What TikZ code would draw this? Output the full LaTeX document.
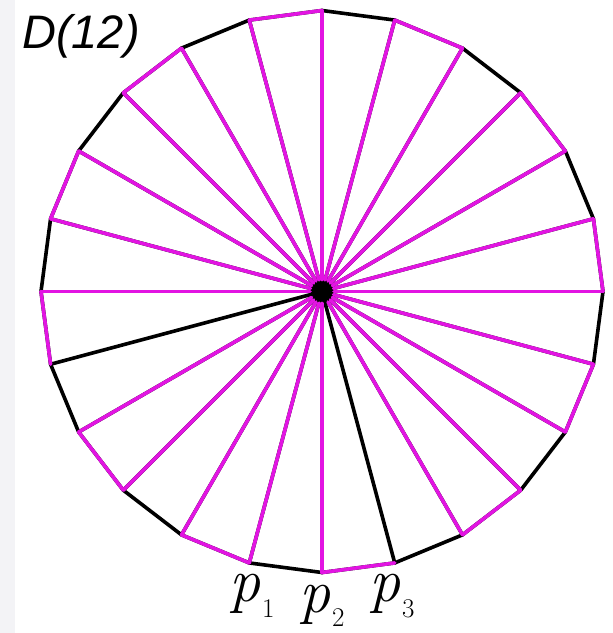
\documentclass[tikz,border=0pt]{standalone}
\usepackage{fontspec}
\newfontfamily\arialfont{Liberation Sans}
\usetikzlibrary{calc}
\definecolor{mag}{RGB}{226,20,226}
\definecolor{stripgray}{RGB}{243,243,246}
\begin{document}
\begin{tikzpicture}[x=1pt,y=-1pt,
  blk/.style={line width=3.6pt,black,line cap=round,line join=round},
  mg/.style={line width=3.6pt,mag,line cap=round,line join=round},
  plabel/.style={anchor=base west,inner sep=0pt}]
\useasboundingbox (0,0) rectangle (613,633);
\fill[stripgray] (0,0) rectangle (15,633);
\coordinate (c) at (322,291.5);
\foreach \k in {0,...,23}{
  \coordinate (v\k) at ({322+281*cos(90-15*\k)},{291.5-281*sin(90-15*\k)});
}
% black layer: all spokes and all edges
\foreach \k in {0,...,23}{
  \pgfmathtruncatemacro{\n}{mod(\k+1,24)}
  \draw[blk] (c) -- (v\k);
  \draw[blk] (v\k) -- (v\n);
}
% magenta layer: odd edges
\foreach \k in {1,3,...,23}{
  \pgfmathtruncatemacro{\n}{mod(\k+1,24)}
  \draw[mg] (v\k) -- (v\n);
}
% magenta spokes
\foreach \k in {0,1,2,3,4,5,6,7,8,9,10,12,13,14,15,16,18,19,20,21,22,23}{
  \draw[mg] ($(c)!12pt!(v\k)$) -- (v\k);
}
\node[plabel] (title) at (22,48) {\arialfont\itshape\fontsize{47}{47}\selectfont D(12)};
\node[plabel] (p1) at (229,601) {\fontsize{62}{62}\selectfont\itshape p\kern2pt\raisebox{-16pt}{\upshape\fontsize{27}{27}\selectfont 1}};
\node[plabel] (p2) at (299,612) {\fontsize{62}{62}\selectfont\itshape p\kern2pt\raisebox{-14pt}{\upshape\fontsize{27}{27}\selectfont 2}};
\node[plabel] (p3) at (369,601) {\fontsize{62}{62}\selectfont\itshape p\kern2pt\raisebox{-16pt}{\upshape\fontsize{27}{27}\selectfont 3}};
\end{tikzpicture}
\end{document}
